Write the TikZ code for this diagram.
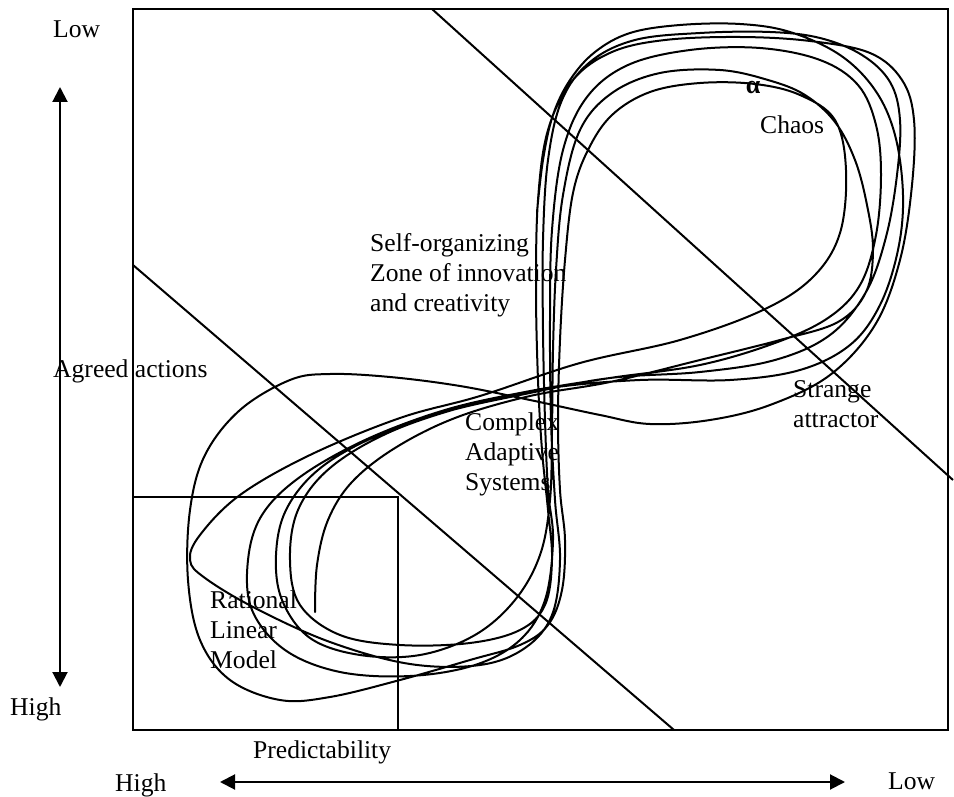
\documentclass[tikz,border=0pt]{standalone}
\usepackage{fontspec}
\setmainfont{Liberation Serif}
\usetikzlibrary{arrows.meta}
\begin{document}
\begin{tikzpicture}[x=1pt,y=-1pt,
  frameline/.style={line width=2.2pt},
  divline/.style={line width=2pt},
  curve/.style={line width=2pt, line join=round, line cap=round},
  axisarrow/.style={line width=2pt, {Triangle[length=15pt,width=15pt]}-{Triangle[length=15pt,width=15pt]}},
  lbl/.style={font=\fontsize{25.6}{30}\selectfont, inner sep=0pt, align=left, anchor=north west}
]
\useasboundingbox (0,0) rectangle (954,797);
% frame and zones
\draw[frameline] (133,9) rectangle (948,730);
\draw[divline] (133,497) rectangle (398,730);
\coordinate (d1a) at (432,9); \coordinate (d1b) at (953,480);
\coordinate (d2a) at (133,265); \coordinate (d2b) at (674,730);
\draw[divline] (d1a) -- (d1b);
\draw[divline] (d2a) -- (d2b);
% axes
\coordinate (vt) at (60,87); \coordinate (vb) at (60,687);
\coordinate (hl) at (220,782); \coordinate (hr) at (845,782);
\draw[axisarrow] (vt) -- (vb);
\draw[axisarrow] (hl) -- (hr);
% labels
\node[lbl] (lowL) at (53,21) {Low};
\node[lbl] (highL) at (10,698) {High};
\node[lbl] (agreed) at (53,360) {Agreed actions};
\node[lbl] (pred) at (253,741) {Predictability};
\node[lbl] (highB) at (115,774) {High};
\node[lbl] (lowB) at (888,773) {Low};
\node[lbl] (chaos) at (760,116) {Chaos};
\node[lbl] (strange) at (793,380) {Strange\\attractor};
\node[lbl] (cas) at (465,413) {Complex\\Adaptive\\Systems};
\node[lbl] (self) at (370,233) {Self-organizing\\Zone of innovation\\and creativity};
\node[lbl] (rlm) at (210,591) {Rational\\Linear\\Model};
\node[inner sep=0pt, font=\fontsize{26}{26}\selectfont\bfseries] (alphamark) at (753,88) {α};
% strange attractor curve
\draw[curve] plot[smooth, tension=0.6] coordinates {
 (315,612) (317,565) (328,520) (352,482) (395,448) (455,418) (530,396) (610,382)
 (700,360) (780,340) (838,322) (866,292) (873,250) (867,205) (855,160) (835,122)
 (805,95) (768,80) (720,70) (660,73) (612,93) (580,130) (563,195) (556,270)
 (553,350) (552,430)
 (550,500) (540,555) (515,600) (475,635) (420,655) (360,655) (310,638) (282,600)
 (276,555) (286,510) (318,470) (372,438) (445,412) (525,394) (610,378)
 (700,372) (775,360) (830,335) (866,292) (886,237) (897,175) (900,120) (890,82)
 (862,55) (820,38) (770,32) (700,33) (635,40) (590,62) (562,100) (548,160)
 (543,240) (543,330)
 (545,420) (548,490) (553,540) (545,600) (520,640) (475,665) (410,676) (340,672)
 (285,650) (252,610) (248,560) (262,515) (300,477) (365,440) (445,410) (525,392)
 (610,378) (700,365) (775,343) (828,318) (860,285) (876,235) (881,175) (876,125)
 (858,85) (820,60) (760,48) (690,50) (628,65) (587,97) (563,150) (552,230)
 (550,320)
 (551,420) (555,500) (560,560) (552,615) (525,648) (480,665) (410,664) (330,642)
 (255,608) (205,578) (190,560) (200,535) (240,495) (310,455) (400,418) (480,396)
 (580,363) (680,340) (763,310) (813,277) (840,233) (846,170) (835,120) (800,95)
 (755,84) (700,83) (650,92) (612,115) (588,150) (573,193) (565,260) (560,340)
 (558,420) (560,490) (565,540) (562,590) (548,625) (520,645) (470,660) (400,680)
 (330,697) (280,700) (230,680) (200,640) (188,580) (190,510) (205,455) (240,410)
 (290,380) (330,374) (390,377) (460,386) (530,400) (600,415) (650,424)
 (710,420) (770,405) (830,375) (875,325) (900,260) (912,185) (914,120) (902,80)
 (870,53) (810,41) (740,37) (665,40) (612,52) (573,80) (548,130) (538,200)
 (536,290) (538,380) (542,450) (548,510) (552,560) (545,605) (520,630) (470,643)
 (400,645) (340,635) (300,605) (290,560) (298,510) (330,468) (390,432) (470,405)
 (550,388) (640,380) (730,380) (800,370) (850,345) (880,305) (898,250) (903,195)
 (895,135) (875,90) (840,55) (790,32) (740,24) (680,25) (630,33) (595,52) (570,80)
 (553,115) (543,160) (537,212)};
\end{tikzpicture}
\end{document}
